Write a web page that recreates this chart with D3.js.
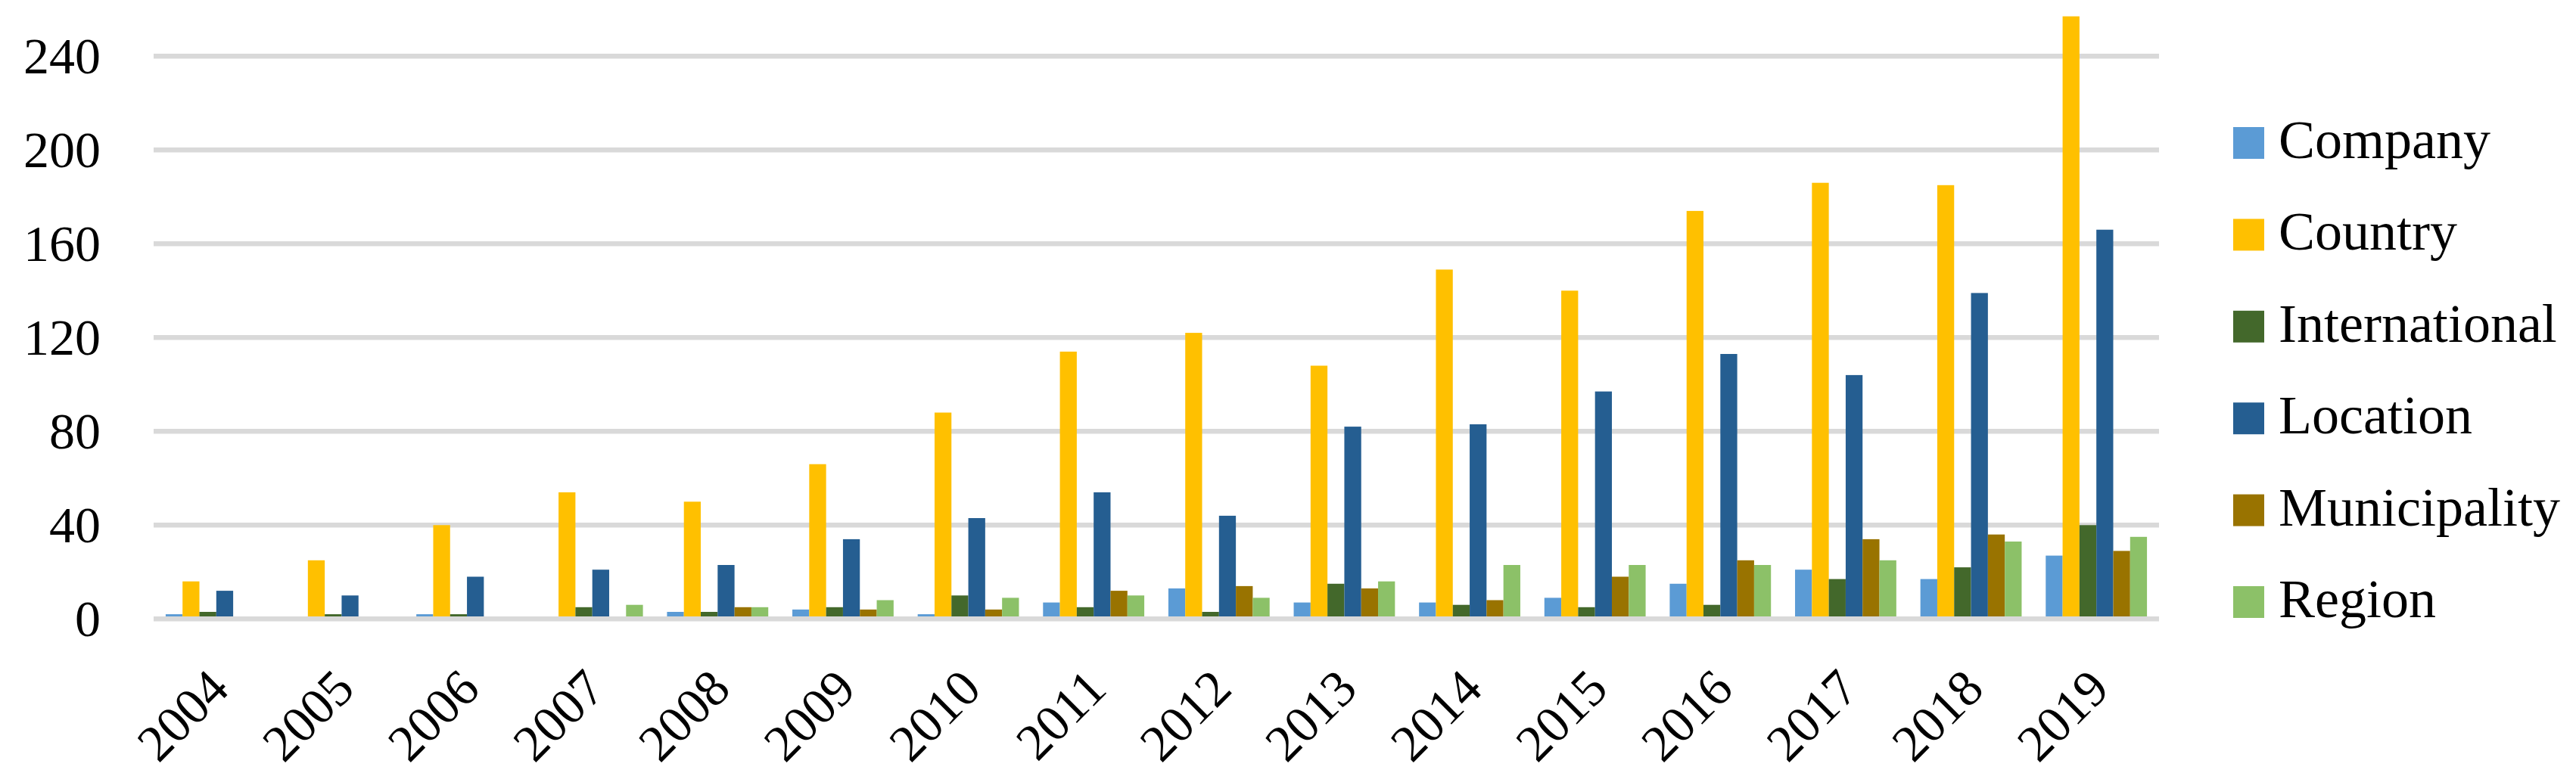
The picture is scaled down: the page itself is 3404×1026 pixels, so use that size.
<!DOCTYPE html>
<html>
<head>
<meta charset="utf-8">
<script src="https://cdn.jsdelivr.net/npm/d3@7"></script>
<style>
  html, body { margin: 0; padding: 0; background: #ffffff; }
  svg { display: block; }
  text { font-family: "Liberation Serif", "Times New Roman", serif; fill: #000; }
</style>
</head>
<body>
<svg id="chart" width="3404" height="1026"></svg>
<script>
const years = ["2004","2005","2006","2007","2008","2009","2010","2011","2012","2013","2014","2015","2016","2017","2018","2019"];
const seriesNames = ["Company","Country","International","Location","Municipality","Region"];
const company       = [2,0,2,0,3,4,2,7,13,7,7,9,15,21,17,27];
const country       = [16,25,40,54,50,66,88,114,122,108,149,140,174,186,185,257];
const international = [3,2,2,5,3,5,10,5,3,15,6,5,6,17,22,40];
const locationVals  = [12,10,18,21,23,34,43,54,44,82,83,97,113,104,139,166];
const municipality  = [0,0,0,0,5,4,4,12,14,13,8,18,25,34,36,29];
const region        = [0,0,0,6,5,8,9,10,9,16,23,23,23,25,33,35];
const yTicks = [0,40,80,120,160,200,240];
const colors = ["#5B9BD5","#FFC000","#43682B","#255E91","#997300","#8CC168"];

const seriesValues = [company, country, international, locationVals, municipality, region];

const svg = d3.select("#chart");
const plotLeft = 203, plotRight = 2853, y0 = 818.3, yTop = 12.3;

const x = d3.scaleBand().domain(years).range([plotLeft, plotRight]).paddingInner(0).paddingOuter(0);
const step = x.bandwidth();
const barW = 22.3;
const groupW = barW * seriesNames.length;
const off = (step - groupW) / 2;
const x1 = d3.scaleBand().domain(seriesNames).range([off, off + groupW]).padding(0);
const y = d3.scaleLinear().domain([0, 260]).range([y0, yTop]);
const color = d3.scaleOrdinal().domain(seriesNames).range(colors);

// gridlines
svg.append("g").selectAll("line").data(yTicks.filter(t => t !== 0)).join("line")
  .attr("x1", plotLeft).attr("x2", plotRight)
  .attr("y1", d => y(d)).attr("y2", d => y(d))
  .attr("stroke", "#D9D9D9").attr("stroke-width", 6.5);

// bars
const groups = svg.append("g").selectAll("g").data(years).join("g")
  .attr("transform", d => `translate(${x(d)},0)`);
groups.selectAll("rect")
  .data((yr, i) => seriesNames.map((s, k) => ({ s, v: seriesValues[k][i] })))
  .join("rect")
  .attr("x", d => x1(d.s))
  .attr("width", x1.bandwidth())
  .attr("y", d => y(d.v))
  .attr("height", d => y0 - y(d.v))
  .attr("fill", d => color(d.s));

// zero line on top
svg.append("line")
  .attr("x1", plotLeft).attr("x2", plotRight)
  .attr("y1", y(0) + 0).attr("y2", y(0))
  .attr("stroke", "#D9D9D9").attr("stroke-width", 6.5);

// y axis labels
const yAxis = d3.axisLeft(y).tickValues(yTicks).tickSize(0).tickPadding(0);
const ya = svg.append("g").attr("transform", `translate(133,0)`).call(yAxis);
ya.select(".domain").remove();
ya.selectAll("text").attr("font-size", 68).attr("font-family", "Liberation Serif").attr("fill", "#000");

// x axis labels rotated
const xAxis = d3.axisBottom(x).tickSize(0).tickPadding(0);
const xa = svg.append("g").attr("transform", `translate(0,0)`).call(xAxis);
xa.select(".domain").remove();
xa.selectAll(".tick").attr("transform", d => `translate(${x(d) + step / 2 + 3},897)`);
xa.selectAll("text")
  .attr("font-size", 68).attr("font-family", "Liberation Serif").attr("fill", "#000")
  .attr("text-anchor", "end").attr("x", 0).attr("y", 0).attr("dy", "0.35em")
  .attr("transform", "rotate(-45)");

// legend
const lg = svg.append("g").selectAll("g").data(seriesNames).join("g")
  .attr("transform", (d, i) => `translate(2951,${168 + i * 121.4})`);
lg.append("rect").attr("width", 41).attr("height", 42).attr("fill", d => color(d));
lg.append("text").attr("x", 60).attr("y", 41).attr("font-size", 72).text(d => d);
</script>
</body>
</html>
